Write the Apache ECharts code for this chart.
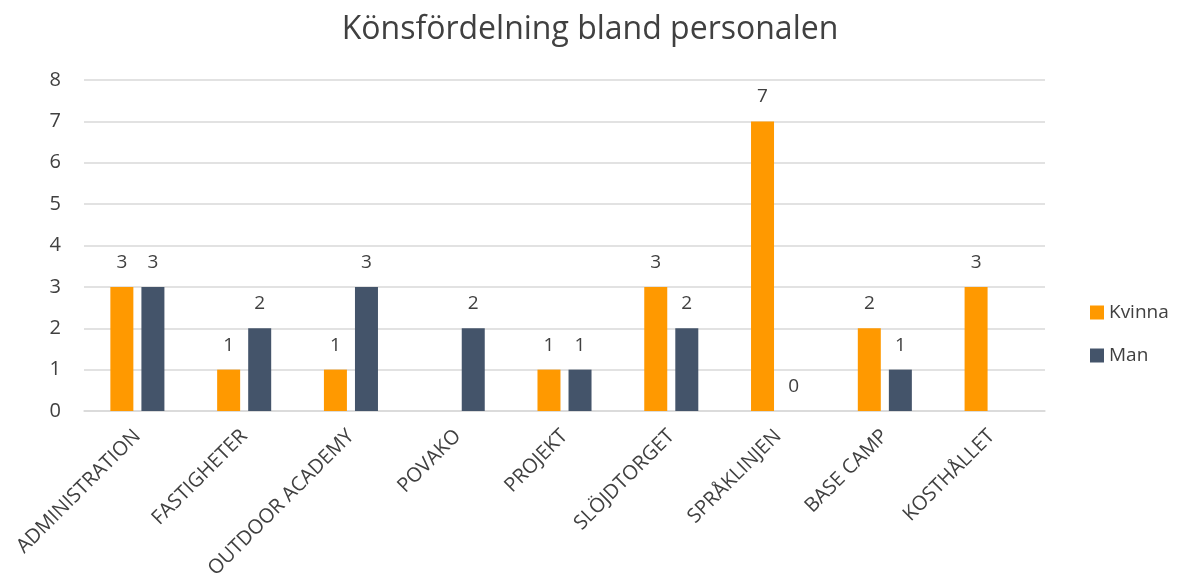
<!DOCTYPE html>
<html>
<head>
<meta charset="utf-8">
<script src="https://cdn.jsdelivr.net/npm/echarts@6/dist/echarts.min.js"></script>
<style>
  html, body { margin: 0; padding: 0; background: #fff; }
  #chart { width: 1180px; height: 588px; }
</style>
</head>
<body>
<div id="chart"></div>
<script>
const categories = ['ADMINISTRATION', 'FASTIGHETER', 'OUTDOOR ACADEMY', 'POVAKO', 'PROJEKT',
  'SLÖJDTORGET', 'SPRÅKLINJEN', 'BASE CAMP', 'KOSTHÅLLET'];
// null = inget värde i källdata
const kvinna = [3, 1, 1, null, 1, 3, 7, 2, 3];
const man = [3, 2, 3, 2, 1, 2, 0, 1, null];
const yTicks = [0, 1, 2, 3, 4, 5, 6, 7, 8];

const chart = echarts.init(document.getElementById('chart'));
const font = 'Open Sans';
const textColor = '#404040';

const barLabel = {
  show: true,
  position: 'top',
  distance: 15,
  color: textColor,
  fontFamily: font,
  fontSize: 19
};

chart.setOption({
  animation: false,
  title: {
    text: 'Könsfördelning bland personalen',
    left: 'center',
    top: 9,
    textStyle: { fontFamily: font, fontSize: 32, fontWeight: 'normal', color: textColor }
  },
  legend: {
    orient: 'vertical',
    left: 1085,
    top: 298,
    itemWidth: 14,
    itemHeight: 14,
    itemGap: 24,
    icon: 'rect',
    textStyle: { fontFamily: font, fontSize: 19, color: textColor }
  },
  grid: { left: 84, right: 135, top: 80, bottom: 177, containLabel: false },
  xAxis: {
    type: 'category',
    data: categories,
    axisLine: { lineStyle: { color: '#d9d9d9', width: 1.5 } },
    axisTick: { show: false },
    axisLabel: {
      rotate: 45,
      interval: 0,
      margin: 22,
      color: textColor,
      fontFamily: font,
      fontSize: 20
    }
  },
  yAxis: {
    type: 'value',
    min: yTicks[0],
    max: yTicks[yTicks.length - 1],
    interval: 1,
    axisLine: { show: false },
    axisTick: { show: false },
    splitLine: { lineStyle: { color: '#d9d9d9', width: 1.5 } },
    axisLabel: { color: textColor, fontFamily: font, fontSize: 20, margin: 23 }
  },
  series: [
    {
      name: 'Kvinna',
      type: 'bar',
      data: kvinna,
      barWidth: 23,
      barGap: '35%',
      itemStyle: { color: '#ff9900' },
      label: barLabel
    },
    {
      name: 'Man',
      type: 'bar',
      data: man,
      barWidth: 23,
      barGap: '35%',
      itemStyle: { color: '#44546a' },
      label: barLabel
    }
  ]
});
</script>
</body>
</html>
